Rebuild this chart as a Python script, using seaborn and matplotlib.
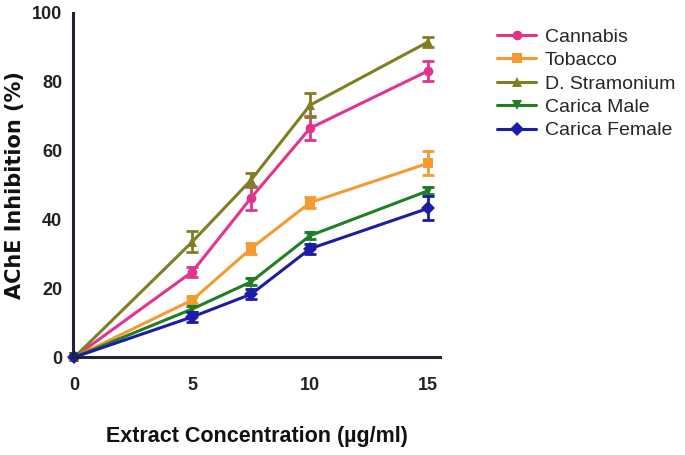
import numpy as np
import pandas as pd
import seaborn as sns
import matplotlib.pyplot as plt

# Dados
concentracao = [0, 5, 7.5, 10, 15]
series = ["Cannabis", "Tobacco", "D. Stramonium", "Carica Male", "Carica Female"]

cannabis = [0, 24.8, 46.3, 66.5, 83.1]
tobacco = [0, 16.6, 31.6, 44.9, 56.3]
stramonium = [0, 33.5, 51.5, 73.2, 91.5]
carica_male = [0, 14.0, 21.9, 35.3, 48.3]
carica_female = [0, 11.7, 18.3, 31.5, 43.2]

err_cannabis = [0, 1.5, 3.5, 3.5, 3.0]
err_tobacco = [0, 1.0, 1.5, 1.5, 3.5]
err_stramonium = [0, 3.0, 2.0, 3.5, 1.5]
err_carica_male = [0, 1.0, 1.0, 1.0, 1.0]
err_carica_female = [0, 1.5, 1.5, 1.5, 3.5]

cores = ["#e2348c", "#f39a30", "#7f7f22", "#1f7f25", "#1c1ca6"]
marcadores = ["o", "s", "^", "v", "D"]

valores = [cannabis, tobacco, stramonium, carica_male, carica_female]
erros = [err_cannabis, err_tobacco, err_stramonium, err_carica_male, err_carica_female]

df = pd.DataFrame({
    "x": concentracao * len(series),
    "y": sum(valores, []),
    "serie": np.repeat(series, len(concentracao)),
})

sns.set_style("white")
plt.rcParams["font.family"] = ["Liberation Sans", "DejaVu Sans"]

fig = plt.figure(figsize=(6.85, 4.55), dpi=100)
ax = fig.add_axes([0.107, 0.215, 0.535, 0.757])

sns.lineplot(data=df, x="x", y="y", hue="serie", style="serie", hue_order=series,
             style_order=series, palette=cores, markers=marcadores, dashes=False,
             markersize=7, linewidth=2.2, markeredgewidth=0, ax=ax)

for vals, errs, cor in zip(valores, erros, cores):
    ax.errorbar(concentracao, vals, yerr=errs, fmt="none", ecolor=cor,
                elinewidth=2, capsize=4, capthick=2)

ax.set_xlim(-0.05, 15.5)
ax.set_ylim(0, 100)
ax.set_xticks([0, 5, 10, 15])
ax.set_yticks([0, 20, 40, 60, 80, 100])
ax.tick_params(axis="both", direction="out", length=5, width=2, colors="#222233",
               labelsize=13, labelcolor="#222222", pad=3)
ax.tick_params(axis="x", pad=9)
for lbl in ax.get_xticklabels() + ax.get_yticklabels():
    lbl.set_fontweight("bold")
for s in ["top", "right"]:
    ax.spines[s].set_visible(False)
for s in ["left", "bottom"]:
    ax.spines[s].set_linewidth(2.2)
    ax.spines[s].set_color("#222233")
for art in ax.lines + ax.collections:
    art.set_clip_on(False)

ax.set_xlabel("Extract Concentration (µg/ml)", fontsize=15.5, fontweight="bold",
              color="#111111")
ax.xaxis.set_label_coords(0.5, -0.2)
ax.set_ylabel("AChE Inhibition (%)", fontsize=15, fontweight="bold",
              color="#111111", family=["DejaVu Sans"])
ax.yaxis.set_label_coords(-0.133, 0.5)

ax.legend(title=None, loc="upper left", bbox_to_anchor=(1.12, 0.995), frameon=False,
          fontsize=14, handlelength=2.0, labelspacing=0.3, handletextpad=0.45,
          borderaxespad=0.3)

fig.savefig("out.png", dpi=100)
